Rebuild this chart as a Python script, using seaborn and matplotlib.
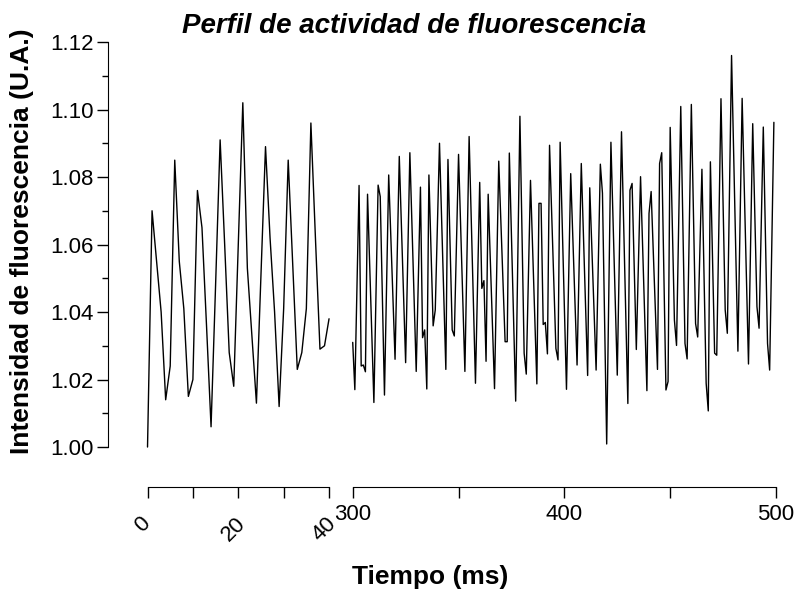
import seaborn as sns
import matplotlib.pyplot as plt
from matplotlib.ticker import MultipleLocator, FixedLocator
from matplotlib.transforms import ScaledTranslation

# tramo inicial (0-40 ms, muestreo de 1 ms)
tiempo_ini = list(range(0, 41))
intensidad_ini = [
    1.000, 1.070, 1.055, 1.040, 1.014, 1.024, 1.085, 1.055, 1.041, 1.015,
    1.020, 1.076, 1.065, 1.036, 1.006, 1.048, 1.091, 1.060, 1.028, 1.018,
    1.060, 1.102, 1.053, 1.033, 1.013, 1.051, 1.089, 1.062, 1.040, 1.012,
    1.041, 1.085, 1.054, 1.023, 1.028, 1.041, 1.096, 1.062, 1.029, 1.030,
    1.038,
]

tiempo_fin = [
    300, 301, 303, 304, 305, 306, 307, 310, 312, 313, 315, 317, 320, 322, 325,
    327, 330, 332, 333, 334, 335, 336, 338, 339, 341, 344, 345, 347, 348, 350,
    353, 355, 358, 360, 361, 362, 363, 364, 367, 369, 372, 373, 374, 377, 379,
    381, 382, 384, 387, 388, 389, 390, 391, 392, 393, 396, 397, 398, 401, 403,
    406, 408, 411, 412, 415, 417, 418, 420, 422, 425, 427, 430, 431, 432, 434,
    436, 439, 440, 441, 444, 445, 446, 448, 449, 450, 452, 453, 455, 457, 458,
    460, 462, 463, 465, 467, 468, 469, 471, 472, 474, 476, 477, 479, 482, 484,
    487, 489, 491, 492, 494, 496, 497, 499,
]
intensidad_fin = [
    1.031, 1.017, 1.0775, 1.024, 1.0243, 1.0223, 1.0749, 1.0132, 1.0776, 1.0742,
    1.0154, 1.0806, 1.026, 1.0861, 1.025, 1.0872, 1.0224, 1.077, 1.0324, 1.0347,
    1.0172, 1.0806, 1.0359, 1.0406, 1.090, 1.023, 1.0852, 1.0347, 1.0329, 1.0867,
    1.0224, 1.092, 1.0189, 1.0784, 1.047, 1.0493, 1.0254, 1.0749, 1.0173, 1.0847,
    1.0312, 1.0312, 1.0871, 1.0136, 1.098, 1.0278, 1.0216, 1.079, 1.0187, 1.0722,
    1.0722, 1.0363, 1.0369, 1.0276, 1.0894, 1.0292, 1.0258, 1.0903, 1.0171, 1.081,
    1.0243, 1.084, 1.0212, 1.0768, 1.0228, 1.0838, 1.0752, 1.0009, 1.0903, 1.0213,
    1.0934, 1.0129, 1.0761, 1.0781, 1.0289, 1.0801, 1.0167, 1.0692, 1.0757, 1.023,
    1.084, 1.0872, 1.0169, 1.0194, 1.0947, 1.0376, 1.0301, 1.1009, 1.0307, 1.0261,
    1.1015, 1.0366, 1.0326, 1.0823, 1.0189, 1.0107, 1.0845, 1.0278, 1.0272, 1.1032,
    1.0406, 1.0337, 1.116, 1.0284, 1.1033, 1.0246, 1.0958, 1.0416, 1.0352, 1.0948,
    1.0307, 1.0228, 1.0962,
]

sns.set_style("ticks")
plt.rcParams['font.family'] = ['Liberation Sans', 'DejaVu Sans']
plt.rcParams['axes.edgecolor'] = 'black'
plt.rcParams['xtick.color'] = 'black'
plt.rcParams['ytick.color'] = 'black'
plt.rcParams['text.color'] = 'black'

fig = plt.figure(figsize=(8, 5.95), dpi=100)
ax1 = fig.add_axes([0.1844, 0.2487, 0.2269, 0.6807])
ax2 = fig.add_axes([0.4409, 0.2487, 0.5291, 0.6807])

sns.lineplot(x=tiempo_ini, y=intensidad_ini, ax=ax1, color='black',
             linewidth=1.0, estimator=None, clip_on=False)
sns.lineplot(x=tiempo_fin, y=intensidad_fin, ax=ax2, color='black',
             linewidth=1.0, estimator=None, clip_on=False)

off = 28.8
for ax in (ax1, ax2):
    ax.set_ylim(1.0, 1.12)
    ax.set_xlabel('')
    ax.set_ylabel('')
    ax.patch.set_alpha(0)
    for s in ('top', 'right'):
        ax.spines[s].set_visible(False)
    ax.spines['bottom'].set_position(('outward', off))
    ax.tick_params(axis='x', which='both', direction='out', length=8,
                   width=1, labelsize=16, pad=4)

# eje izquierdo
ax1.set_xlim(0, 40)
ax1.spines['bottom'].set_bounds(0, 40)
ax1.spines['left'].set_position(('outward', 28.5))
ax1.spines['left'].set_bounds(1.0, 1.12)
ax1.xaxis.set_major_locator(FixedLocator([0, 20, 40]))
ax1.xaxis.set_minor_locator(FixedLocator([10, 30]))
desplaza = ScaledTranslation(-5 / 100, -9 / 100, fig.dpi_scale_trans)
for lab in ax1.get_xticklabels():
    lab.set_rotation(45)
    lab.set_transform(lab.get_transform() + desplaza)
ax1.yaxis.set_major_locator(MultipleLocator(0.02))
ax1.yaxis.set_minor_locator(MultipleLocator(0.01))
ax1.set_yticks([1.00, 1.02, 1.04, 1.06, 1.08, 1.10, 1.12])
ax1.set_yticklabels(['1.00', '1.02', '1.04', '1.06', '1.08', '1.10', '1.12'])
ax1.tick_params(axis='y', which='major', direction='out', length=8, width=1,
                labelsize=16, pad=2)
ax1.tick_params(axis='y', which='minor', direction='out', length=4, width=1)

# eje derecho
ax2.set_xlim(300, 500)
ax2.spines['bottom'].set_bounds(300, 500)
ax2.spines['left'].set_visible(False)
ax2.xaxis.set_major_locator(FixedLocator([300, 400, 500]))
ax2.xaxis.set_minor_locator(FixedLocator([350, 450]))
ax2.tick_params(axis='y', which='both', left=False, labelleft=False)

fig.text(0.518, 0.957, 'Perfil de actividad de fluorescencia', ha='center',
         va='center', fontsize=20, fontweight='bold', fontstyle='italic')
fig.text(0.538, 0.030, 'Tiempo (ms)', ha='center', va='center',
         fontsize=19, fontweight='bold')
fig.text(0.028, 0.595, 'Intensidad de fluorescencia (U.A.)', ha='center',
         va='center', rotation=90, fontsize=19, fontweight='bold')

fig.savefig('out.png', dpi=100)
